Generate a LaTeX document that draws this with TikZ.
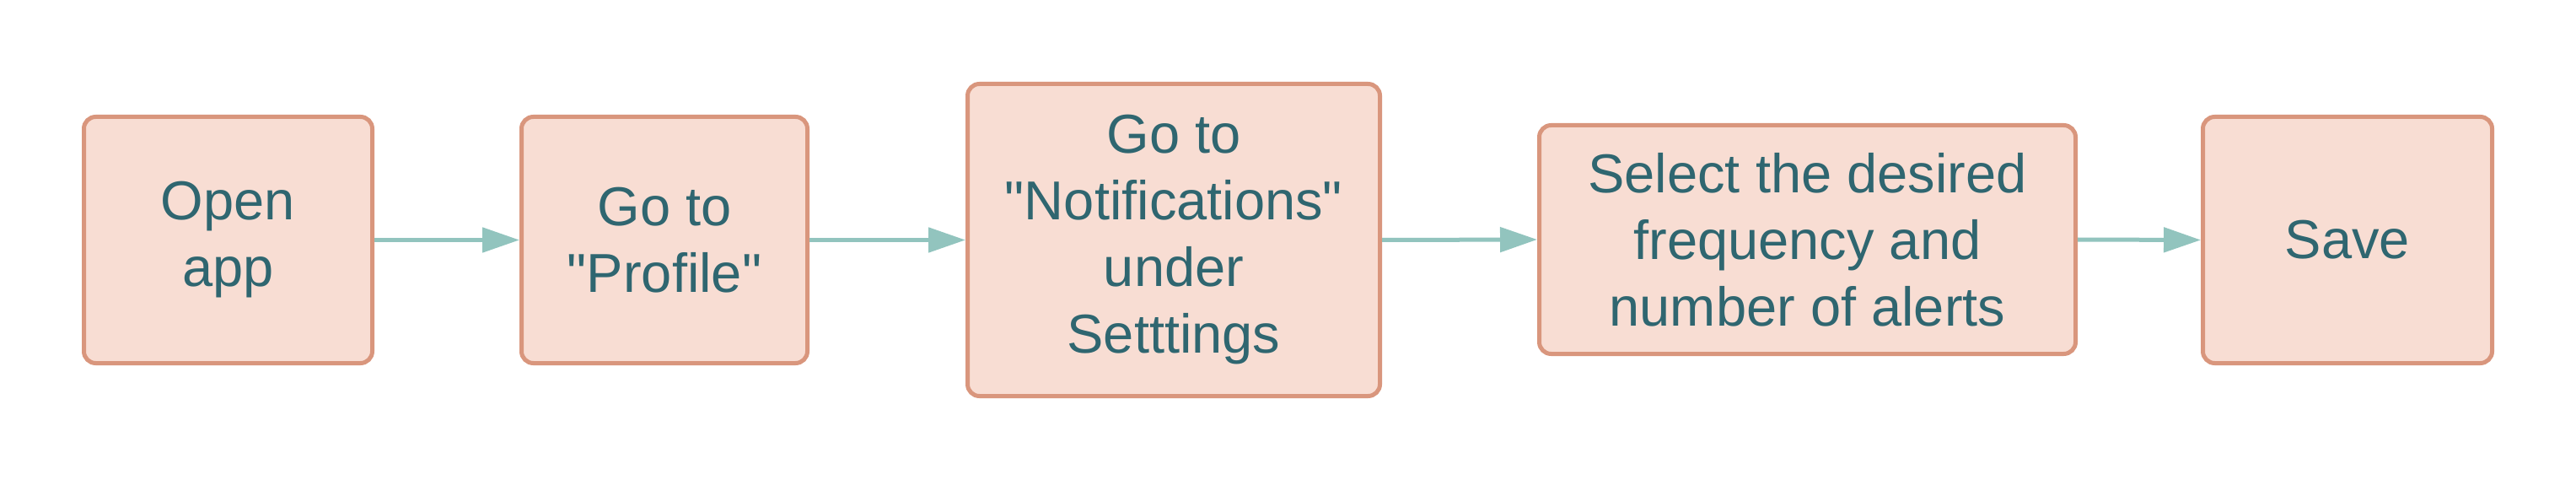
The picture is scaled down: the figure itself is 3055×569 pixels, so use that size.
\documentclass[tikz,border=0pt]{standalone}
\usepackage{fontspec}
\setmainfont[Ligatures=TeXOff]{Liberation Sans}
\usetikzlibrary{arrows.meta}
\definecolor{boxfill}{HTML}{F8DDD3}
\definecolor{boxline}{HTML}{D9967D}
\definecolor{txtcol}{HTML}{2F6670}
\definecolor{arrcol}{HTML}{92C4BE}
\tikzset{
  stepbox/.style={draw=boxline, fill=boxfill, line width=5pt, rounded corners=14pt,
    inner sep=0pt, align=center, text=txtcol,
    font=\fontsize{65}{79}\selectfont},
  flowarrow/.style={draw=arrcol, line width=5pt,
    -{Triangle[length=44pt,width=29pt]}}
}
\begin{document}
\begin{tikzpicture}[x=1pt,y=-1pt]
\useasboundingbox (0,0) rectangle (3055,569);
\node[stepbox, minimum width=342pt, minimum height=292pt] (b1) at (270.5,284.5) {Open\\app};
\node[stepbox, minimum width=339pt, minimum height=292pt] (b2) at (788,284.5) {Go to\\"Profile"};
\node[stepbox, minimum width=489pt, minimum height=370pt] (b3) at (1392,284.5) {Go to\\"Notifications"\\under\\Setttings};
\node[stepbox, minimum width=636pt, minimum height=271pt] (b4) at (2143.5,284) {Select the desired\\frequency and\\number of alerts};
\node[stepbox, minimum width=343pt, minimum height=292pt] (b5) at (2784,284.5) {Save};
\draw[flowarrow] (b1.east) -- (b2.west);
\draw[flowarrow] (b2.east) -- (b3.west);
\draw[flowarrow] (b3.east) -- (b4.west);
\draw[flowarrow] (b4.east) -- (b5.west);
\end{tikzpicture}
\end{document}
